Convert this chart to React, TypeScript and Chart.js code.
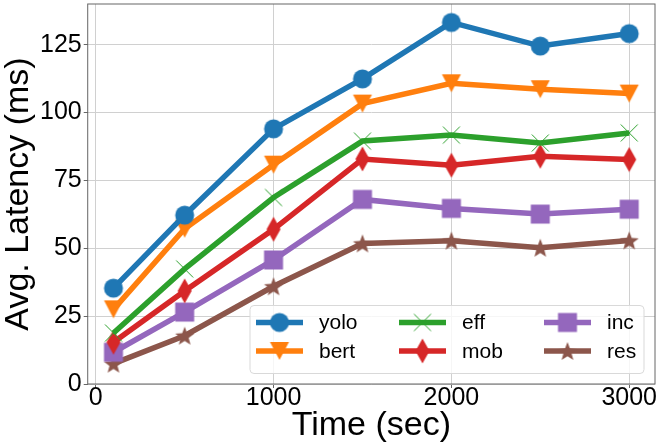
import React, { useEffect, useRef } from "react";
import { Chart } from "chart.js/auto";

const times = [100, 500, 1000, 1500, 2000, 2500, 3000];
const yolo = [35.3, 62.2, 94.0, 112.4, 133.2, 124.5, 129.1];
const bert = [27.5, 57.2, 80.8, 103.3, 110.8, 108.6, 107.0];
const eff = [18.8, 42.4, 68.7, 89.5, 91.7, 88.8, 92.5];
const mob = [15.4, 34.3, 57.0, 82.9, 80.6, 83.9, 82.7];
const inc = [11.7, 26.5, 45.7, 68.0, 64.7, 62.6, 64.4];
const res = [7.5, 17.8, 36.0, 51.8, 52.8, 50.2, 52.9];

const xTicks = [0, 1000, 2000, 3000];
const yTicks = [0, 25, 50, 75, 100, 125];

const FONT = '"Liberation Sans", Arial, sans-serif';

type Kind = "circle" | "tri" | "x" | "diamond" | "square" | "star";

function makeMarker(kind: Kind, color: string): HTMLCanvasElement {
    const c = document.createElement("canvas");
    const s = 26;
    c.width = s;
    c.height = s;
    const ctx = c.getContext("2d")!;
    const m = s / 2;
    ctx.fillStyle = color;
    ctx.strokeStyle = color;
    ctx.lineWidth = 1;
    ctx.beginPath();
    if (kind === "circle") {
        ctx.arc(m, m, 9.5, 0, Math.PI * 2);
        ctx.fill();
    } else if (kind === "tri") {
        ctx.moveTo(m - 9.5, m - 9);
        ctx.lineTo(m + 9.5, m - 9);
        ctx.lineTo(m, m + 9);
        ctx.closePath();
        ctx.fill();
    } else if (kind === "x") {
        ctx.moveTo(m - 8.5, m - 8.5);
        ctx.lineTo(m + 8.5, m + 8.5);
        ctx.moveTo(m + 8.5, m - 8.5);
        ctx.lineTo(m - 8.5, m + 8.5);
        ctx.stroke();
    } else if (kind === "diamond") {
        ctx.moveTo(m, m - 12.5);
        ctx.lineTo(m + 7, m);
        ctx.lineTo(m, m + 12.5);
        ctx.lineTo(m - 7, m);
        ctx.closePath();
        ctx.fill();
    } else if (kind === "square") {
        ctx.rect(m - 9.5, m - 9.5, 19, 19);
        ctx.fill();
    } else {
        const R = 10, r = 4.2;
        for (let i = 0; i < 10; i++) {
            const a = -Math.PI / 2 + (i * Math.PI) / 5;
            const rr = i % 2 === 0 ? R : r;
            const px = m + rr * Math.cos(a);
            const py = m + 1 + rr * Math.sin(a);
            if (i === 0) ctx.moveTo(px, py);
            else ctx.lineTo(px, py);
        }
        ctx.closePath();
        ctx.fill();
    }
    return c;
}

const App: React.FC = () => {
    const canvasRef = useRef<HTMLCanvasElement>(null);

    useEffect(() => {
        if (!canvasRef.current) return;
        const ctx = canvasRef.current.getContext("2d");
        if (!ctx) return;

        const series: { label: string; data: number[]; color: string; kind: Kind }[] = [
            { label: "yolo", data: yolo, color: "#1f77b4", kind: "circle" },
            { label: "bert", data: bert, color: "#ff7f0e", kind: "tri" },
            { label: "eff", data: eff, color: "#2ca02c", kind: "x" },
            { label: "mob", data: mob, color: "#d62728", kind: "diamond" },
            { label: "inc", data: inc, color: "#9467bd", kind: "square" },
            { label: "res", data: res, color: "#8c564b", kind: "star" },
        ];
        const markers = series.map((s) => makeMarker(s.kind, s.color));

        const frame = {
            id: "frame",
            afterDatasetsDraw(chart: any) {
                const { ctx, chartArea: a } = chart;
                ctx.save();
                ctx.strokeStyle = "#666666";
                ctx.lineWidth = 1;
                ctx.strokeRect(a.left, a.top, a.right - a.left, a.bottom - a.top);
                ctx.restore();
            },
        };

        const legendBox = {
            id: "legendBox",
            afterDraw(chart: any) {
                const { ctx, chartArea: a } = chart;
                const w = 394, h = 68;
                const x0 = a.right - 11 - w;
                const y0 = a.bottom - 10.5 - h;
                ctx.save();
                ctx.beginPath();
                ctx.roundRect(x0, y0, w, h, 4);
                ctx.fillStyle = "rgba(255,255,255,0.8)";
                ctx.fill();
                ctx.strokeStyle = "#d9d9d9";
                ctx.lineWidth = 1;
                ctx.stroke();
                const colX = [6, 149, 294];
                const rowY = [17, 45.5];
                ctx.font = `21px ${FONT}`;
                ctx.textBaseline = "middle";
                series.forEach((s, i) => {
                    const col = Math.floor(i / 2);
                    const row = i % 2;
                    const lx = x0 + colX[col];
                    const ly = y0 + rowY[row];
                    ctx.beginPath();
                    ctx.strokeStyle = s.color;
                    ctx.lineWidth = 5.5;
                    ctx.moveTo(lx, ly);
                    ctx.lineTo(lx + 47, ly);
                    ctx.stroke();
                    const mk = markers[i];
                    ctx.drawImage(mk, lx + 23.5 - mk.width / 2, ly - mk.height / 2);
                    ctx.fillStyle = "#000000";
                    ctx.fillText(s.label, lx + 63, ly + 1);
                });
                ctx.restore();
            },
        };

        const chart = new Chart(ctx, {
            type: "line",
            data: {
                datasets: series.map((s, i) => ({
                    label: s.label,
                    data: times.map((t, j) => ({ x: t, y: s.data[j] })),
                    borderColor: s.color,
                    backgroundColor: s.color,
                    borderWidth: 5.5,
                    pointStyle: markers[i],
                    pointRadius: 10,
                    tension: 0,
                    fill: false,
                })),
            },
            options: {
                animation: false,
                responsive: true,
                maintainAspectRatio: false,
                layout: { autoPadding: false, padding: { top: 4, right: 9, left: 0, bottom: 0 } },
                plugins: {
                    legend: { display: false },
                    tooltip: { enabled: false },
                },
                scales: {
                    x: {
                        type: "linear",
                        min: -45,
                        max: 3145,
                        afterBuildTicks: (scale: any) => {
                            scale.ticks = xTicks.map((v) => ({ value: v }));
                        },
                        afterFit: (scale: any) => {
                            scale.paddingLeft = 0;
                            scale.paddingRight = 0;
                        },
                        ticks: {
                            color: "#000000",
                            font: { family: FONT, size: 25, lineHeight: 1 },
                            padding: -2,
                            maxRotation: 0,
                            callback: (v: any) => String(v),
                        },
                        grid: { color: "#d0d0d0", lineWidth: 1, tickLength: 4, tickColor: "#666666" },
                        border: { display: false },
                        title: {
                            display: true,
                            text: "Time (sec)",
                            color: "#000000",
                            font: { family: FONT, size: 34, lineHeight: 1 },
                            padding: { top: 0, bottom: 5 },
                        },
                    },
                    y: {
                        type: "linear",
                        min: 0,
                        max: 140,
                        afterBuildTicks: (scale: any) => {
                            scale.ticks = yTicks.map((v) => ({ value: v }));
                        },
                        afterFit: (scale: any) => {
                            scale.paddingTop = 0;
                            scale.paddingBottom = 0;
                        },
                        ticks: {
                            color: "#000000",
                            font: { family: FONT, size: 25, lineHeight: 1 },
                            padding: 2,
                            callback: (v: any) => String(v),
                        },
                        grid: { color: "#d0d0d0", lineWidth: 1, tickLength: 4, tickColor: "#666666" },
                        border: { display: false },
                        title: {
                            display: true,
                            text: "Avg. Latency (ms)",
                            color: "#000000",
                            font: { family: FONT, size: 34, lineHeight: 1 },
                            padding: { top: 2, bottom: 2 },
                        },
                    },
                },
            },
            plugins: [frame, legendBox],
        });

        return () => {
            chart.destroy();
        };
    }, []);

    return (
        <div style={{ position: "fixed", left: 0, top: 0, width: 664, height: 448, background: "#ffffff" }}>
            <canvas ref={canvasRef}></canvas>
        </div>
    );
};

export default App;
